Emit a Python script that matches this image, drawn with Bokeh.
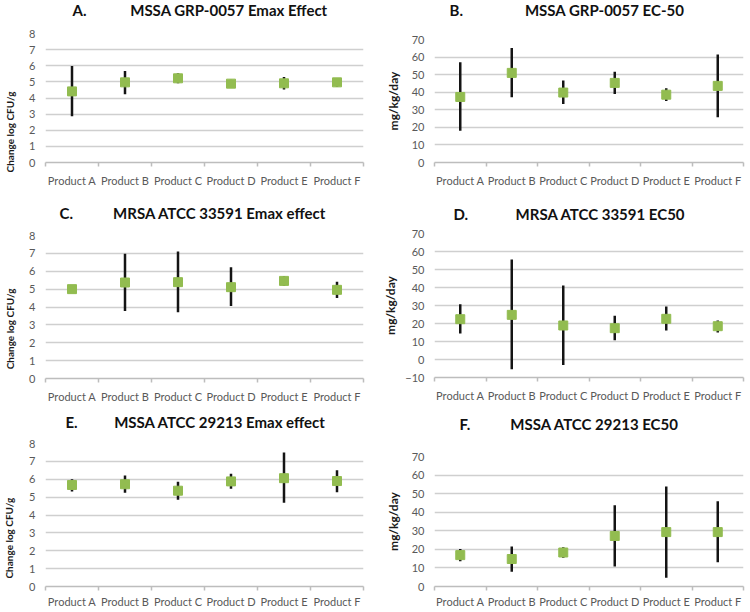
from bokeh.plotting import figure
from bokeh.models import Range1d, FixedTicker, Label
from bokeh.layouts import column, row
from bokeh.embed import file_html
from bokeh.resources import INLINE

categories = ["Product A", "Product B", "Product C", "Product D", "Product E", "Product F"]

emax_ticks = [0, 1, 2, 3, 4, 5, 6, 7, 8]
ec50_ticks = [0, 10, 20, 30, 40, 50, 60, 70]
ec50_ticks_neg = [-10, 0, 10, 20, 30, 40, 50, 60, 70]

# A. MSSA GRP-0057 Emax Effect
a_mean = [4.41, 4.97, 5.22, 4.89, 4.91, 4.97]
a_low = [2.87, 4.24, 4.91, 4.64, 4.53, 4.70]
a_high = [5.99, 5.68, 5.53, 5.13, 5.30, 5.24]

# B. MSSA GRP-0057 EC-50
b_mean = [37.3, 51.0, 39.8, 45.3, 38.6, 43.6]
b_low = [18.1, 37.1, 33.3, 39.0, 35.0, 25.7]
b_high = [57.1, 65.1, 46.6, 51.7, 42.2, 61.4]

# C. MRSA ATCC 33591 Emax effect
c_mean = [5.0, 5.37, 5.39, 5.11, 5.46, 4.96]
c_low = [5.0, 3.78, 3.70, 4.06, 5.17, 4.50]
c_high = [5.0, 6.98, 7.11, 6.22, 5.74, 5.41]

# D. MRSA ATCC 33591 EC50
d_mean = [22.4, 24.8, 18.9, 17.4, 22.6, 18.5]
d_low = [14.4, -5.4, -3.1, 10.7, 16.1, 15.0]
d_high = [30.7, 55.6, 41.1, 24.3, 29.4, 21.7]

# E. MSSA ATCC 29213 Emax effect
e_mean = [5.68, 5.72, 5.36, 5.88, 6.06, 5.90]
e_low = [5.32, 5.25, 4.86, 5.47, 4.68, 5.27]
e_high = [6.00, 6.21, 5.86, 6.31, 7.50, 6.51]

# F. MSSA ATCC 29213 EC50
f_mean = [16.9, 14.8, 18.3, 27.2, 29.3, 29.3]
f_low = [13.6, 8.0, 15.5, 10.8, 4.7, 13.1]
f_high = [20.2, 21.5, 21.1, 43.8, 53.8, 45.9]

FONT = "Lato"
GREEN = "#92bc50"
GRID = "#cfcfcf"
AXIS = "#bdbdbd"
TICK_TEXT = "#595959"
NBSP = "\u00a0"


def panel(letter, name, gap, ylabel, label_pad, mean, low, high, y_ticks, fig_box, frame_box,
          letter_x, title_y, ylabel_standoff, xlabel_standoff):
    ox, oy, w, h = fig_box
    fl, ft, fr, fb = frame_box
    n = len(categories)
    y0, y1 = y_ticks[0], y_ticks[-1]
    p = figure(width=w, height=h, output_backend="svg", toolbar_location=None,
               x_range=Range1d(0, n), y_range=Range1d(y0, y1),
               min_border_left=fl - ox, min_border_right=ox + w - fr,
               min_border_top=ft - oy, min_border_bottom=oy + h - fb,
               outline_line_color=None, background_fill_color="white",
               border_fill_color="white")
    p.title = None
    xs = [i + 0.5 for i in range(n)]

    # x axis: labels at category centres, small ticks at category boundaries
    xa = p.xaxis[0]
    xa.ticker = FixedTicker(ticks=xs, minor_ticks=list(range(n + 1)))
    xa.major_label_overrides = {x: c for x, c in zip(xs, categories)}
    xa.major_tick_line_color = None
    xa.major_tick_out = 0
    xa.major_tick_in = 0
    xa.minor_tick_out = 4
    xa.minor_tick_in = 0
    xa.minor_tick_line_color = AXIS
    xa.minor_tick_line_width = 1.5
    xa.axis_line_color = AXIS
    xa.axis_line_width = 1.5
    xa.major_label_text_font = FONT
    xa.major_label_text_font_size = "11px"
    xa.major_label_text_color = TICK_TEXT
    xa.major_label_standoff = xlabel_standoff

    ya = p.yaxis[0]
    ya.ticker = FixedTicker(ticks=y_ticks)
    ya.axis_line_color = None
    ya.major_tick_line_color = None
    ya.minor_tick_line_color = None
    ya.major_tick_out = 0
    ya.major_tick_in = 0
    ya.major_label_text_font = FONT
    ya.major_label_text_font_size = "11px"
    ya.major_label_text_color = TICK_TEXT
    ya.major_label_standoff = 10
    # trailing non-breaking spaces push the visible label towards the bottom of the axis
    ya.axis_label = ylabel + NBSP * label_pad
    ya.axis_label_text_font = FONT
    ya.axis_label_text_font_style = "bold"
    ya.axis_label_text_color = "#1a1a1a"
    ya.axis_label_standoff = ylabel_standoff
    ya.axis_label_text_font_size = "10px" if "CFU" in ylabel else "12px"

    p.xgrid.visible = False
    p.ygrid.grid_line_color = GRID
    p.ygrid.grid_line_width = 1.5

    p.segment(x0=xs, y0=low, x1=xs, y1=high, line_color="#141414", line_width=2.5)
    p.scatter(x=xs, y=mean, marker="square", size=9,
              fill_color=GREEN, line_color=GREEN)

    # panel title in the space above the plot area
    p.add_layout(Label(x=letter_x - fl, y=ft - title_y, x_units="screen", y_units="screen",
                       text=letter + NBSP * gap + name, text_font=FONT,
                       text_font_style="bold", text_font_size="15px",
                       text_color="#111111", text_baseline="middle",
                       text_align="left"), "above")
    return p


pA = panel("A.", "MSSA GRP-0057 Emax Effect", 12, "Change log CFU/g", 28, a_mean, a_low, a_high,
           emax_ticks, (0, 0, 375, 200), (41, 33, 364, 162), 68, 9, 10, 7)
pB = panel("B.", "MSSA GRP-0057 EC-50", 17, "mg/kg/day", 0, b_mean, b_low, b_high,
           ec50_ticks, (375, 0, 373, 200), (434, 39, 745, 162), 449, 9, 8, 7)
pC = panel("C.", "MRSA ATCC 33591 Emax effect", 11, "Change log CFU/g", 18, c_mean, c_low, c_high,
           emax_ticks, (0, 200, 375, 205), (41, 235, 363, 379), 55, 212, 10, 7)
pD = panel("D.", "MRSA ATCC 33591 EC50", 13, "mg/kg/day", 0, d_mean, d_low, d_high,
           ec50_ticks_neg, (375, 200, 373, 205), (433, 233, 743, 377), 452, 213, 4, 7)
pE = panel("E.", "MSSA ATCC 29213 Emax effect", 10, "Change log CFU/g", 19, e_mean, e_low, e_high,
           emax_ticks, (0, 405, 375, 205), (42, 443, 363, 591), 62, 421, 11, 4)
pF = panel("F.", "MSSA ATCC 29213 EC50", 11, "mg/kg/day", 0, f_mean, f_low, f_high,
           ec50_ticks, (375, 405, 373, 205), (433, 456, 745, 590), 458, 423, 8, 4)

layout = row(column(pA, pC, pE), column(pB, pD, pF))
open("out.html", "w").write(file_html(layout, INLINE, "Emax and EC50 by product"))
